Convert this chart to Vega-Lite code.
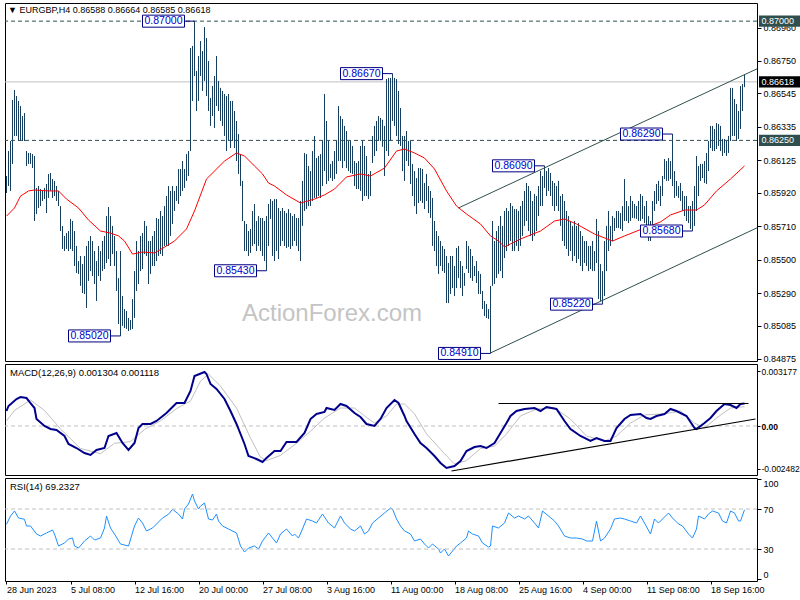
{
"$schema":"https://vega.github.io/schema/vega-lite/v6.json",
"padding":{"left":2,"top":2,"right":0,"bottom":0},
"background":"white",
"bounds":"flush",
"spacing":3,
"config":{"view":{"stroke":"black","strokeWidth":1},"font":"Liberation Sans"},
"datasets":{
"bars":[
{"i":0,"h":0.86026,"l":0.85919},{"i":1,"h":0.86183,"l":0.85963},{"i":2,"h":0.86246,"l":0.85932},{"i":3,"h":0.86504,"l":0.86102},{"i":4,"h":0.86567,"l":0.86278},{"i":5,"h":0.86529,"l":0.86278},{"i":6,"h":0.86498,"l":0.86246},{"i":7,"h":0.86466,"l":0.86246},{"i":8,"h":0.86403,"l":0.86246},{"i":9,"h":0.86422,"l":0.86246},
{"i":10,"h":0.86183,"l":0.86089},{"i":11,"h":0.86171,"l":0.86102},{"i":12,"h":0.86171,"l":0.86102},{"i":13,"h":0.86164,"l":0.86076},{"i":14,"h":0.86152,"l":0.85743},{"i":15,"h":0.85951,"l":0.85787},{"i":16,"h":0.85963,"l":0.85825},{"i":17,"h":0.85944,"l":0.85837},{"i":18,"h":0.85932,"l":0.85869},{"i":19,"h":0.85951,"l":0.85881},
{"i":20,"h":0.85976,"l":0.85793},{"i":21,"h":0.86039,"l":0.85888},{"i":22,"h":0.86045,"l":0.85932},{"i":23,"h":0.86007,"l":0.85888},{"i":24,"h":0.85995,"l":0.859},{"i":25,"h":0.85963,"l":0.85869},{"i":26,"h":0.85932,"l":0.85837},{"i":27,"h":0.85837,"l":0.8568},{"i":28,"h":0.85712,"l":0.85567},{"i":29,"h":0.85649,"l":0.85554},
{"i":30,"h":0.85667,"l":0.85567},{"i":31,"h":0.8568,"l":0.85554},{"i":32,"h":0.85756,"l":0.85567},{"i":33,"h":0.85743,"l":0.85554},{"i":34,"h":0.8568,"l":0.8546},{"i":35,"h":0.85586,"l":0.85416},{"i":36,"h":0.85491,"l":0.8541},{"i":37,"h":0.85523,"l":0.85335},{"i":38,"h":0.85472,"l":0.8529},{"i":39,"h":0.85523,"l":0.85284},
{"i":40,"h":0.85586,"l":0.85196},{"i":41,"h":0.85617,"l":0.85366},{"i":42,"h":0.85649,"l":0.85428},{"i":43,"h":0.85617,"l":0.85397},{"i":44,"h":0.85554,"l":0.85347},{"i":45,"h":0.85491,"l":0.8524},{"i":46,"h":0.85586,"l":0.85397},{"i":47,"h":0.85554,"l":0.85366},{"i":48,"h":0.85617,"l":0.85428},{"i":49,"h":0.85649,"l":0.85441},
{"i":50,"h":0.85774,"l":0.85479},{"i":51,"h":0.85831,"l":0.85504},{"i":52,"h":0.85774,"l":0.8546},{"i":53,"h":0.85712,"l":0.85535},{"i":54,"h":0.85649,"l":0.8546},{"i":55,"h":0.85554,"l":0.85303},{"i":56,"h":0.85384,"l":0.85095},{"i":57,"h":0.85554,"l":0.8502},{"i":58,"h":0.85271,"l":0.85083},{"i":59,"h":0.85189,"l":0.8507},
{"i":60,"h":0.85177,"l":0.85064},{"i":61,"h":0.85133,"l":0.85051},{"i":62,"h":0.8512,"l":0.85058},{"i":63,"h":0.85252,"l":0.85064},{"i":64,"h":0.85428,"l":0.85133},{"i":65,"h":0.85617,"l":0.85303},{"i":66,"h":0.85554,"l":0.85347},{"i":67,"h":0.85649,"l":0.85428},{"i":68,"h":0.85667,"l":0.85441},{"i":69,"h":0.85743,"l":0.85535},
{"i":70,"h":0.85712,"l":0.85523},{"i":71,"h":0.85617,"l":0.85347},{"i":72,"h":0.85617,"l":0.8541},{"i":73,"h":0.85649,"l":0.8546},{"i":74,"h":0.8568,"l":0.8546},{"i":75,"h":0.85762,"l":0.85491},{"i":76,"h":0.85756,"l":0.85523},{"i":77,"h":0.85806,"l":0.85535},{"i":78,"h":0.85774,"l":0.85523},{"i":79,"h":0.85837,"l":0.85586},
{"i":80,"h":0.859,"l":0.85586},{"i":81,"h":0.85963,"l":0.85586},{"i":82,"h":0.85932,"l":0.85649},{"i":83,"h":0.85963,"l":0.85724},{"i":84,"h":0.85932,"l":0.85806},{"i":85,"h":0.85963,"l":0.85869},{"i":86,"h":0.8607,"l":0.8585},{"i":87,"h":0.8607,"l":0.859},{"i":88,"h":0.8612,"l":0.85932},{"i":89,"h":0.8607,"l":0.85951},
{"i":90,"h":0.86164,"l":0.85995},{"i":91,"h":0.86183,"l":0.86026},{"i":92,"h":0.86831,"l":0.86183},{"i":93,"h":0.86844,"l":0.86498},{"i":94,"h":0.87,"l":0.86655},{"i":95,"h":0.86687,"l":0.86435},{"i":96,"h":0.86781,"l":0.86498},{"i":97,"h":0.86875,"l":0.86655},{"i":98,"h":0.86812,"l":0.86561},{"i":99,"h":0.86963,"l":0.86624},
{"i":100,"h":0.86894,"l":0.86529},{"i":101,"h":0.86749,"l":0.86435},{"i":102,"h":0.86517,"l":0.86341},{"i":103,"h":0.86592,"l":0.86403},{"i":104,"h":0.86655,"l":0.86328},{"i":105,"h":0.86781,"l":0.86466},{"i":106,"h":0.86624,"l":0.86435},{"i":107,"h":0.8658,"l":0.86372},{"i":108,"h":0.86561,"l":0.86341},{"i":109,"h":0.86542,"l":0.86278},
{"i":110,"h":0.86529,"l":0.86183},{"i":111,"h":0.86542,"l":0.86246},{"i":112,"h":0.86498,"l":0.86202},{"i":113,"h":0.86498,"l":0.86246},{"i":114,"h":0.86435,"l":0.86202},{"i":115,"h":0.86372,"l":0.8612},{"i":116,"h":0.8629,"l":0.86039},{"i":117,"h":0.86164,"l":0.85963},{"i":118,"h":0.85995,"l":0.85743},{"i":119,"h":0.85743,"l":0.85554},
{"i":120,"h":0.85724,"l":0.85554},{"i":121,"h":0.8568,"l":0.85523},{"i":122,"h":0.85693,"l":0.85542},{"i":123,"h":0.85806,"l":0.85586},{"i":124,"h":0.8585,"l":0.85598},{"i":125,"h":0.85743,"l":0.85554},{"i":126,"h":0.85774,"l":0.85586},{"i":127,"h":0.85762,"l":0.85554},{"i":128,"h":0.85762,"l":0.85523},{"i":129,"h":0.85743,"l":0.85491},
{"i":130,"h":0.85774,"l":0.8543},{"i":131,"h":0.8585,"l":0.85586},{"i":132,"h":0.85881,"l":0.85756},{"i":133,"h":0.85869,"l":0.85523},{"i":134,"h":0.85881,"l":0.85491},{"i":135,"h":0.85881,"l":0.85554},{"i":136,"h":0.85825,"l":0.85504},{"i":137,"h":0.85806,"l":0.85586},{"i":138,"h":0.85825,"l":0.85617},{"i":139,"h":0.85806,"l":0.85586},
{"i":140,"h":0.85793,"l":0.85573},{"i":141,"h":0.85818,"l":0.8558},{"i":142,"h":0.85793,"l":0.85567},{"i":143,"h":0.85774,"l":0.85586},{"i":144,"h":0.85787,"l":0.85617},{"i":145,"h":0.85762,"l":0.85586},{"i":146,"h":0.85762,"l":0.85554},{"i":147,"h":0.85869,"l":0.85491},{"i":148,"h":0.85995,"l":0.85712},{"i":149,"h":0.86171,"l":0.85806},
{"i":150,"h":0.86164,"l":0.85818},{"i":151,"h":0.86089,"l":0.85837},{"i":152,"h":0.86057,"l":0.85837},{"i":153,"h":0.86183,"l":0.85869},{"i":154,"h":0.86278,"l":0.85888},{"i":155,"h":0.86139,"l":0.85888},{"i":156,"h":0.86152,"l":0.859},{"i":157,"h":0.86164,"l":0.85888},{"i":158,"h":0.86246,"l":0.85963},{"i":159,"h":0.86542,"l":0.86057},
{"i":160,"h":0.86372,"l":0.85976},{"i":161,"h":0.86246,"l":0.85995},{"i":162,"h":0.86102,"l":0.86013},{"i":163,"h":0.8612,"l":0.85995},{"i":164,"h":0.86183,"l":0.86007},{"i":165,"h":0.86246,"l":0.86039},{"i":166,"h":0.86466,"l":0.8612},{"i":167,"h":0.86403,"l":0.8612},{"i":168,"h":0.86385,"l":0.86076},{"i":169,"h":0.86341,"l":0.8612},
{"i":170,"h":0.86309,"l":0.86076},{"i":171,"h":0.86246,"l":0.86057},{"i":172,"h":0.86246,"l":0.86045},{"i":173,"h":0.86215,"l":0.86039},{"i":174,"h":0.8612,"l":0.85963},{"i":175,"h":0.86108,"l":0.85944},{"i":176,"h":0.8612,"l":0.85944},{"i":177,"h":0.86215,"l":0.85932},{"i":178,"h":0.86246,"l":0.85869},{"i":179,"h":0.86215,"l":0.859},
{"i":180,"h":0.86152,"l":0.859},{"i":181,"h":0.86039,"l":0.85881},{"i":182,"h":0.86057,"l":0.859},{"i":183,"h":0.86278,"l":0.86108},{"i":184,"h":0.86341,"l":0.86152},{"i":185,"h":0.86372,"l":0.86183},{"i":186,"h":0.86403,"l":0.86246},{"i":187,"h":0.86391,"l":0.86246},{"i":188,"h":0.8638,"l":0.8621},{"i":189,"h":0.86341,"l":0.86026},
{"i":190,"h":0.86636,"l":0.86183},{"i":191,"h":0.86643,"l":0.86152},{"i":192,"h":0.86643,"l":0.86246},{"i":193,"h":0.8667,"l":0.86372},{"i":194,"h":0.86643,"l":0.86341},{"i":195,"h":0.86636,"l":0.86278},{"i":196,"h":0.86561,"l":0.86227},{"i":197,"h":0.86454,"l":0.86215},{"i":198,"h":0.86278,"l":0.86057},{"i":199,"h":0.86278,"l":0.85995},
{"i":200,"h":0.86309,"l":0.8612},{"i":201,"h":0.86246,"l":0.86089},{"i":202,"h":0.86246,"l":0.85976},{"i":203,"h":0.86102,"l":0.859},{"i":204,"h":0.86057,"l":0.85837},{"i":205,"h":0.86013,"l":0.85787},{"i":206,"h":0.86076,"l":0.85856},{"i":207,"h":0.86076,"l":0.85869},{"i":208,"h":0.8607,"l":0.85856},{"i":209,"h":0.85982,"l":0.85818},
{"i":210,"h":0.86039,"l":0.85869},{"i":211,"h":0.85963,"l":0.85793},{"i":212,"h":0.85932,"l":0.85762},{"i":213,"h":0.85888,"l":0.85586},{"i":214,"h":0.85743,"l":0.85554},{"i":215,"h":0.8568,"l":0.8546},{"i":216,"h":0.85649,"l":0.8541},{"i":217,"h":0.85617,"l":0.8546},{"i":218,"h":0.85586,"l":0.85428},{"i":219,"h":0.85567,"l":0.85416},
{"i":220,"h":0.85523,"l":0.85227},{"i":221,"h":0.85479,"l":0.85227},{"i":222,"h":0.85523,"l":0.85284},{"i":223,"h":0.85523,"l":0.85321},{"i":224,"h":0.8546,"l":0.85271},{"i":225,"h":0.85573,"l":0.85321},{"i":226,"h":0.85586,"l":0.85384},{"i":227,"h":0.85491,"l":0.85321},{"i":228,"h":0.8546,"l":0.85271},{"i":229,"h":0.85416,"l":0.85335},
{"i":230,"h":0.85617,"l":0.85441},{"i":231,"h":0.85586,"l":0.85416},{"i":232,"h":0.85567,"l":0.85384},{"i":233,"h":0.85523,"l":0.85366},{"i":234,"h":0.8546,"l":0.85397},{"i":235,"h":0.85491,"l":0.85353},{"i":236,"h":0.85428,"l":0.85284},{"i":237,"h":0.8541,"l":0.85284},{"i":238,"h":0.85303,"l":0.85189},{"i":239,"h":0.8524,"l":0.85145},
{"i":240,"h":0.85221,"l":0.85133},{"i":241,"h":0.85189,"l":0.85127},{"i":242,"h":0.85335,"l":0.8491},{"i":243,"h":0.85743,"l":0.85335},{"i":244,"h":0.85617,"l":0.85347},{"i":245,"h":0.8568,"l":0.85384},{"i":246,"h":0.85712,"l":0.8541},{"i":247,"h":0.85774,"l":0.85428},{"i":248,"h":0.85712,"l":0.85384},{"i":249,"h":0.85806,"l":0.8551},
{"i":250,"h":0.85825,"l":0.85554},{"i":251,"h":0.85806,"l":0.85586},{"i":252,"h":0.85856,"l":0.85617},{"i":253,"h":0.85837,"l":0.85554},{"i":254,"h":0.85818,"l":0.85554},{"i":255,"h":0.85818,"l":0.85586},{"i":256,"h":0.85806,"l":0.85554},{"i":257,"h":0.85837,"l":0.85586},{"i":258,"h":0.85869,"l":0.85649},{"i":259,"h":0.85932,"l":0.85712},
{"i":260,"h":0.85982,"l":0.85743},{"i":261,"h":0.85963,"l":0.8568},{"i":262,"h":0.85932,"l":0.85649},{"i":263,"h":0.85869,"l":0.85617},{"i":264,"h":0.85913,"l":0.85649},{"i":265,"h":0.859,"l":0.8568},{"i":266,"h":0.85963,"l":0.85774},{"i":267,"h":0.86057,"l":0.85837},{"i":268,"h":0.86026,"l":0.85837},{"i":269,"h":0.8609,"l":0.85951},
{"i":270,"h":0.86057,"l":0.859},{"i":271,"h":0.86076,"l":0.85932},{"i":272,"h":0.86045,"l":0.859},{"i":273,"h":0.85995,"l":0.85837},{"i":274,"h":0.85982,"l":0.85806},{"i":275,"h":0.85963,"l":0.85837},{"i":276,"h":0.85995,"l":0.85806},{"i":277,"h":0.859,"l":0.85712},{"i":278,"h":0.85913,"l":0.85617},{"i":279,"h":0.85869,"l":0.85586},
{"i":280,"h":0.85806,"l":0.85567},{"i":281,"h":0.85774,"l":0.85523},{"i":282,"h":0.85743,"l":0.85554},{"i":283,"h":0.85712,"l":0.85491},{"i":284,"h":0.85743,"l":0.85523},{"i":285,"h":0.85712,"l":0.85479},{"i":286,"h":0.8573,"l":0.85504},{"i":287,"h":0.8568,"l":0.8546},{"i":288,"h":0.85649,"l":0.85428},{"i":289,"h":0.85617,"l":0.85479},
{"i":290,"h":0.85617,"l":0.8546},{"i":291,"h":0.85586,"l":0.85428},{"i":292,"h":0.85586,"l":0.85441},{"i":293,"h":0.85617,"l":0.85428},{"i":294,"h":0.85554,"l":0.85428},{"i":295,"h":0.85756,"l":0.85479},{"i":296,"h":0.8568,"l":0.85252},{"i":297,"h":0.85472,"l":0.8524},{"i":298,"h":0.85428,"l":0.8522},{"i":299,"h":0.85617,"l":0.85271},
{"i":300,"h":0.85712,"l":0.85428},{"i":301,"h":0.85806,"l":0.85554},{"i":302,"h":0.85712,"l":0.85586},{"i":303,"h":0.85774,"l":0.85617},{"i":304,"h":0.85762,"l":0.8568},{"i":305,"h":0.85806,"l":0.85699},{"i":306,"h":0.85806,"l":0.85699},{"i":307,"h":0.85793,"l":0.85693},{"i":308,"h":0.85837,"l":0.8568},{"i":309,"h":0.86007,"l":0.85743},
{"i":310,"h":0.85869,"l":0.85743},{"i":311,"h":0.85837,"l":0.8573},{"i":312,"h":0.859,"l":0.85743},{"i":313,"h":0.85869,"l":0.85762},{"i":314,"h":0.8585,"l":0.8576},{"i":315,"h":0.85837,"l":0.85756},{"i":316,"h":0.85869,"l":0.85743},{"i":317,"h":0.85913,"l":0.85743},{"i":318,"h":0.859,"l":0.85756},{"i":319,"h":0.85837,"l":0.8573},
{"i":320,"h":0.85869,"l":0.85649},{"i":321,"h":0.85774,"l":0.85617},{"i":322,"h":0.85743,"l":0.85617},{"i":323,"h":0.85869,"l":0.8568},{"i":324,"h":0.85932,"l":0.85806},{"i":325,"h":0.85976,"l":0.8585},{"i":326,"h":0.85995,"l":0.85869},{"i":327,"h":0.85963,"l":0.85837},{"i":328,"h":0.86026,"l":0.859},{"i":329,"h":0.86133,"l":0.86007},
{"i":330,"h":0.8612,"l":0.85995},{"i":331,"h":0.86139,"l":0.85995},{"i":332,"h":0.8612,"l":0.86007},{"i":333,"h":0.8629,"l":0.85963},{"i":334,"h":0.86057,"l":0.85888},{"i":335,"h":0.85995,"l":0.859},{"i":336,"h":0.85963,"l":0.85888},{"i":337,"h":0.85982,"l":0.85869},{"i":338,"h":0.85932,"l":0.85806},{"i":339,"h":0.859,"l":0.85774},
{"i":340,"h":0.859,"l":0.85743},{"i":341,"h":0.85837,"l":0.8573},{"i":342,"h":0.85837,"l":0.85693},{"i":343,"h":0.85869,"l":0.8568},{"i":344,"h":0.85963,"l":0.85712},{"i":345,"h":0.86152,"l":0.85806},{"i":346,"h":0.86089,"l":0.859},{"i":347,"h":0.86102,"l":0.85995},{"i":348,"h":0.86102,"l":0.86013},{"i":349,"h":0.8612,"l":0.85982},
{"i":350,"h":0.86171,"l":0.85976},{"i":351,"h":0.86246,"l":0.86057},{"i":352,"h":0.86341,"l":0.86202},{"i":353,"h":0.86341,"l":0.86183},{"i":354,"h":0.86322,"l":0.86183},{"i":355,"h":0.86359,"l":0.86196},{"i":356,"h":0.86353,"l":0.86215},{"i":357,"h":0.86341,"l":0.86183},{"i":358,"h":0.86259,"l":0.86152},{"i":359,"h":0.86259,"l":0.86171},
{"i":360,"h":0.86246,"l":0.86152},{"i":361,"h":0.86278,"l":0.86171},{"i":362,"h":0.8658,"l":0.86246},{"i":363,"h":0.8658,"l":0.86278},{"i":364,"h":0.8651,"l":0.86278},{"i":365,"h":0.86479,"l":0.86246},{"i":366,"h":0.86435,"l":0.86259},{"i":367,"h":0.86592,"l":0.86322},{"i":368,"h":0.86605,"l":0.86435},{"i":369,"h":0.86664,"l":0.86585}
],
"ma":[
{"i":0,"p":0.85774},{"i":4,"p":0.85825},{"i":7,"p":0.859},{"i":11,"p":0.85932},{"i":14,"p":0.85938},{"i":21,"p":0.85932},{"i":26,"p":0.85932},{"i":30,"p":0.85881},{"i":36,"p":0.85825},{"i":41,"p":0.85749},{"i":47,"p":0.8568},{"i":52,"p":0.85667},{"i":56,"p":0.85649},{"i":59,"p":0.85617},{"i":63,"p":0.85535},{"i":68,"p":0.85548},{"i":74,"p":0.85542},{"i":80,"p":0.85586},{"i":84,"p":0.85617},{"i":90,"p":0.85693},{"i":94,"p":0.85806},{"i":100,"p":0.86007},{"i":109,"p":0.8612},{"i":115,"p":0.86171},{"i":119,"p":0.86152},{"i":124,"p":0.86089},{"i":128,"p":0.86039},{"i":131,"p":0.85982},{"i":134,"p":0.85963},{"i":140,"p":0.85907},{"i":147,"p":0.85856},{"i":154,"p":0.85881},{"i":159,"p":0.85907},{"i":164,"p":0.85944},{"i":170,"p":0.8602},{"i":177,"p":0.86039},{"i":182,"p":0.86026},{"i":189,"p":0.86076},{"i":195,"p":0.86183},{"i":199,"p":0.86196},{"i":204,"p":0.86171},{"i":209,"p":0.86139},{"i":214,"p":0.8607},{"i":220,"p":0.85932},{"i":225,"p":0.85837},{"i":230,"p":0.85787},{"i":237,"p":0.85724},{"i":242,"p":0.85649},{"i":246,"p":0.85617},{"i":249,"p":0.8558},{"i":257,"p":0.8563},{"i":267,"p":0.8568},{"i":274,"p":0.85743},{"i":279,"p":0.85756},{"i":285,"p":0.85724},{"i":294,"p":0.85661},{"i":303,"p":0.85617},{"i":309,"p":0.85649},{"i":319,"p":0.85699},{"i":327,"p":0.85737},{"i":332,"p":0.85781},{"i":339,"p":0.85812},{"i":345,"p":0.85812},{"i":349,"p":0.85844},{"i":355,"p":0.85932},{"i":362,"p":0.86007},{"i":369,"p":0.86089}
],
"macd":[
{"i":0,"v":0.000867},{"i":1,"v":0.001156},{"i":5,"v":0.001561},{"i":7,"v":0.001676},{"i":10,"v":0.001618},{"i":12,"v":0.001329},{"i":14,"v":0.00104},{"i":15,"v":0.000405},{"i":19,"v":0},{"i":22,"v":-0.000173},{"i":25,"v":-0.000231},{"i":29,"v":-0.000578},{"i":31,"v":-0.00104},{"i":35,"v":-0.001272},{"i":39,"v":-0.001561},{"i":42,"v":-0.001676},{"i":45,"v":-0.001387},{"i":49,"v":-0.001272},{"i":51,"v":-0.000578},{"i":55,"v":-0.000405},{"i":58,"v":-0.000983},{"i":61,"v":-0.001387},{"i":64,"v":-0.000983},{"i":66,"v":-0.000116},{"i":68,"v":0.000116},{"i":72,"v":0.000116},{"i":75,"v":0.000289},{"i":80,"v":0.000751},{"i":85,"v":0.001329},{"i":89,"v":0.001329},{"i":92,"v":0.002023},{"i":94,"v":0.00289},{"i":99,"v":0.003121},{"i":100,"v":0.003006},{"i":102,"v":0.002428},{"i":105,"v":0.002139},{"i":109,"v":0.001561},{"i":112,"v":0.000867},{"i":115,"v":0.000116},{"i":119,"v":-0.00104},{"i":121,"v":-0.001734},{"i":125,"v":-0.001907},{"i":128,"v":-0.002081},{"i":130,"v":-0.00185},{"i":134,"v":-0.001445},{"i":137,"v":-0.001445},{"i":140,"v":-0.000925},{"i":145,"v":-0.000925},{"i":149,"v":-0.000405},{"i":152,"v":0.000405},{"i":155,"v":0.000694},{"i":159,"v":0.000809},{"i":160,"v":0.00104},{"i":164,"v":0.000925},{"i":167,"v":0.001272},{"i":170,"v":0.001156},{"i":174,"v":0.000751},{"i":177,"v":0.00052},{"i":180,"v":0.000116},{"i":184,"v":0},{"i":187,"v":0.000405},{"i":190,"v":0.00104},{"i":194,"v":0.001503},{"i":196,"v":0.001329},{"i":199,"v":0.000578},{"i":200,"v":0.000289},{"i":204,"v":-0.000462},{"i":207,"v":-0.000983},{"i":210,"v":-0.001272},{"i":214,"v":-0.001734},{"i":217,"v":-0.002139},{"i":220,"v":-0.002428},{"i":224,"v":-0.002312},{"i":227,"v":-0.002023},{"i":230,"v":-0.001445},{"i":234,"v":-0.001214},{"i":237,"v":-0.001156},{"i":240,"v":-0.001272},{"i":244,"v":-0.000983},{"i":247,"v":-0.000405},{"i":250,"v":0.000173},{"i":252,"v":0.000578},{"i":255,"v":0.000867},{"i":259,"v":0.000983},{"i":264,"v":0.00104},{"i":267,"v":0.000867},{"i":270,"v":0.001098},{"i":275,"v":0.000983},{"i":279,"v":0.000289},{"i":282,"v":-0.000173},{"i":287,"v":-0.000578},{"i":292,"v":-0.000867},{"i":295,"v":-0.000694},{"i":299,"v":-0.000867},{"i":302,"v":-0.000867},{"i":305,"v":-0.000116},{"i":309,"v":0.000405},{"i":312,"v":0.000636},{"i":317,"v":0.000694},{"i":320,"v":0.000462},{"i":322,"v":0.000405},{"i":325,"v":0.000578},{"i":329,"v":0.000694},{"i":332,"v":0.000983},{"i":335,"v":0.000867},{"i":340,"v":0.000578},{"i":344,"v":-0.000116},{"i":345,"v":-0.000173},{"i":349,"v":0.000173},{"i":352,"v":0.000462},{"i":355,"v":0.000867},{"i":359,"v":0.001272},{"i":362,"v":0.001214},{"i":365,"v":0.00104},{"i":367,"v":0.001272},{"i":369,"v":0.001304}
],
"sig":[
{"i":0,"v":0.0003},{"i":4,"v":0.0009},{"i":12,"v":0.0015},{"i":19,"v":0.0009},{"i":27,"v":-0.00017},{"i":37,"v":-0.0013},{"i":47,"v":-0.0016},{"i":54,"v":-0.001},{"i":62,"v":-0.0009},{"i":69,"v":-0.0002},{"i":77,"v":0.0003},{"i":85,"v":0.001},{"i":92,"v":0.00145},{"i":97,"v":0.0026},{"i":101,"v":0.003},{"i":107,"v":0.0023},{"i":115,"v":0.00104},{"i":122,"v":-0.0007},{"i":127,"v":-0.0018},{"i":130,"v":-0.002},{"i":137,"v":-0.0017},{"i":145,"v":-0.001},{"i":152,"v":-0.0003},{"i":159,"v":0.00046},{"i":167,"v":0.00104},{"i":174,"v":0.00104},{"i":180,"v":0.0005},{"i":184,"v":0.00017},{"i":190,"v":0.00058},{"i":195,"v":0.00127},{"i":199,"v":0.00127},{"i":204,"v":0.0007},{"i":210,"v":-0.00046},{"i":219,"v":-0.0016},{"i":224,"v":-0.0022},{"i":230,"v":-0.002},{"i":237,"v":-0.0013},{"i":244,"v":-0.00116},{"i":250,"v":-0.00046},{"i":257,"v":0.00058},{"i":265,"v":0.00098},{"i":274,"v":0.00104},{"i":282,"v":0.0004},{"i":290,"v":-0.00058},{"i":299,"v":-0.00087},{"i":305,"v":-0.00058},{"i":312,"v":0.00017},{"i":319,"v":0.00064},{"i":329,"v":0.0007},{"i":337,"v":0.00087},{"i":344,"v":0.00017},{"i":349,"v":-0.00012},{"i":355,"v":0.00046},{"i":362,"v":0.00104},{"i":369,"v":0.001118}
],
"rsi":[
{"i":0,"v":54.7},{"i":2,"v":63},{"i":4,"v":68},{"i":6,"v":61},{"i":9,"v":59.7},{"i":10,"v":53},{"i":12,"v":53},{"i":15,"v":45},{"i":17,"v":43},{"i":20,"v":46},{"i":23,"v":49},{"i":24,"v":45},{"i":26,"v":33},{"i":29,"v":36},{"i":31,"v":40},{"i":33,"v":41},{"i":34,"v":33},{"i":36,"v":31},{"i":39,"v":38},{"i":42,"v":43},{"i":44,"v":39},{"i":47,"v":41},{"i":49,"v":51},{"i":50,"v":63},{"i":52,"v":51},{"i":54,"v":45},{"i":57,"v":35},{"i":61,"v":33},{"i":64,"v":53},{"i":66,"v":61},{"i":68,"v":56},{"i":70,"v":48},{"i":73,"v":51},{"i":75,"v":55},{"i":78,"v":61},{"i":81,"v":64.7},{"i":83,"v":69.7},{"i":86,"v":65},{"i":88,"v":60},{"i":89,"v":70},{"i":91,"v":75},{"i":93,"v":85},{"i":94,"v":78},{"i":96,"v":70},{"i":97,"v":73},{"i":99,"v":76},{"i":101,"v":60},{"i":103,"v":59},{"i":105,"v":65},{"i":106,"v":58},{"i":108,"v":53},{"i":111,"v":50},{"i":115,"v":46},{"i":117,"v":33},{"i":119,"v":27},{"i":121,"v":31},{"i":124,"v":33},{"i":126,"v":30},{"i":128,"v":38},{"i":131,"v":46},{"i":133,"v":41},{"i":135,"v":36},{"i":137,"v":45},{"i":140,"v":50},{"i":143,"v":43},{"i":144,"v":45},{"i":146,"v":41},{"i":148,"v":50},{"i":150,"v":60},{"i":153,"v":58},{"i":155,"v":56},{"i":158,"v":65},{"i":161,"v":56},{"i":164,"v":51},{"i":167,"v":63},{"i":169,"v":56},{"i":172,"v":50},{"i":174,"v":48},{"i":177,"v":53},{"i":179,"v":45},{"i":181,"v":48},{"i":183,"v":56},{"i":186,"v":61},{"i":189,"v":66},{"i":192,"v":71},{"i":193,"v":70},{"i":195,"v":60},{"i":197,"v":53},{"i":199,"v":48},{"i":202,"v":45},{"i":204,"v":38},{"i":207,"v":40},{"i":209,"v":35},{"i":211,"v":31},{"i":213,"v":35},{"i":216,"v":30},{"i":217,"v":26},{"i":219,"v":30},{"i":221,"v":23},{"i":223,"v":28},{"i":225,"v":33},{"i":227,"v":36},{"i":230,"v":41},{"i":231,"v":48},{"i":233,"v":45},{"i":236,"v":43},{"i":238,"v":36},{"i":241,"v":32},{"i":242,"v":33},{"i":243,"v":53},{"i":246,"v":51},{"i":249,"v":56},{"i":251,"v":66},{"i":254,"v":61},{"i":256,"v":63},{"i":259,"v":60},{"i":261,"v":63},{"i":264,"v":56},{"i":266,"v":51},{"i":268,"v":68},{"i":271,"v":63},{"i":274,"v":58},{"i":276,"v":53},{"i":279,"v":43},{"i":282,"v":41},{"i":285,"v":41},{"i":288,"v":40},{"i":290,"v":38},{"i":293,"v":38},{"i":295,"v":58},{"i":297,"v":38},{"i":299,"v":41},{"i":302,"v":50},{"i":304,"v":60},{"i":307,"v":61},{"i":309,"v":60},{"i":312,"v":58},{"i":315,"v":56},{"i":317,"v":63},{"i":319,"v":56},{"i":322,"v":45},{"i":324,"v":60},{"i":326,"v":56},{"i":328,"v":60},{"i":331,"v":66},{"i":333,"v":61},{"i":336,"v":55},{"i":338,"v":53},{"i":341,"v":45},{"i":343,"v":41},{"i":345,"v":50},{"i":346,"v":63},{"i":349,"v":60},{"i":351,"v":65},{"i":353,"v":68},{"i":356,"v":66},{"i":358,"v":58},{"i":360,"v":56},{"i":362,"v":68},{"i":364,"v":66},{"i":366,"v":58},{"i":367,"v":58},{"i":369,"v":69.23}
],
"plabels":[{"i":94,"p":0.87},{"i":193,"p":0.8667},{"i":269,"p":0.8609},{"i":333,"p":0.8629},{"i":343,"p":0.8568},{"i":130,"p":0.8543},{"i":57,"p":0.8502},{"i":242,"p":0.8491},{"i":298,"p":0.8522}],
"tl":[{"t":"u","i":226,"p":0.85825},{"t":"u","i":375.25,"p":0.867},{"t":"d","i":242,"p":0.84913},{"t":"d","i":375.25,"p":0.857}],
"mtl":[{"t":"h","i":246,"v":0.0013},{"t":"h","i":371,"v":0.0013},{"t":"r","i":222.5,"v":-0.0026},{"t":"r","i":374.5,"v":0.000405}]
},
"vconcat":[
{
"width":752,"height":358,
"resolve":{"axis":{"x":"independent","y":"independent"}},
"layer":[
{"data":{"values":[{"p":0.86618}]},"mark":{"type":"rule","color":"#C0C0C0","strokeWidth":1},
 "encoding":{"y":{"field":"p","type":"quantitative","scale":{"domain":[0.848624,0.871142],"nice":false,"zero":false},
  "axis":{"orient":"right","values":[0.84875,0.85085,0.8529,0.855,0.8571,0.8592,0.86125,0.86335,0.86545,0.8675,0.8696],"format":".5f","title":null,"grid":false,"domain":false,"ticks":true,"tickSize":4,"tickColor":"black","labelColor":"black","labelFontSize":9,"labelPadding":2,"labelFlush":false,"labelOverlap":false,"labelBound":false}}}},
{"data":{"values":[{"t":"ActionForex.com"}]},"mark":{"type":"text","fontSize":24,"color":"#c4c4c4","align":"center","baseline":"middle"},
 "encoding":{"x":{"datum":162.75,"type":"quantitative","scale":{"domain":[-0.75,375.25],"nice":false,"zero":false},"axis":null},"y":{"datum":0.85158,"type":"quantitative","axis":null},"text":{"field":"t"}}},
{"data":{"name":"bars"},"mark":{"type":"rule","color":"#163e5e","strokeWidth":1},
 "encoding":{"x":{"field":"i","type":"quantitative","scale":{"domain":[-0.75,375.25],"nice":false,"zero":false},"axis":null},
 "y":{"field":"l","type":"quantitative","axis":null},"y2":{"field":"h"}}},
{"data":{"name":"ma"},"mark":{"type":"line","color":"#FF0000","strokeWidth":1},"encoding":{"x":{"field":"i","type":"quantitative","axis":null},"y":{"field":"p","type":"quantitative","axis":null}}},
{"data":{"values":[{"p":0.87},{"p":0.8625}]},"mark":{"type":"rule","color":"#2F4F4F","strokeWidth":1,"strokeDash":[4,3]},"encoding":{"y":{"field":"p","type":"quantitative","axis":null}}},
{"data":{"name":"tl"},"mark":{"type":"line","color":"#2F4F4F","strokeWidth":1},"encoding":{"x":{"field":"i","type":"quantitative","axis":null},"y":{"field":"p","type":"quantitative","axis":null},"detail":{"field":"t"}}},
{"data":{"name":"plabels"},"mark":{"type":"rule","color":"#000080","strokeWidth":1,"x2Offset":-10},"encoding":{"x":{"field":"i","type":"quantitative","axis":null},"x2":{"field":"i"},"y":{"field":"p","type":"quantitative","axis":null}}},
{"data":{"name":"plabels"},"mark":{"type":"point","shape":"M-1,-0.286H1V0.286H-1Z","size":1764,"filled":true,"fill":"white","stroke":"#000080","strokeWidth":1,"opacity":1,"xOffset":-31},"encoding":{"x":{"field":"i","type":"quantitative","axis":null},"y":{"field":"p","type":"quantitative","axis":null}}},
{"data":{"name":"plabels"},"mark":{"type":"text","dx":-31,"align":"center","baseline":"middle","color":"#0000CD","fontSize":10.5},"encoding":{"x":{"field":"i","type":"quantitative","axis":null},"y":{"field":"p","type":"quantitative","axis":null},"text":{"field":"p","format":".5f"}}},
{"data":{"values":[{"p":0.87},{"p":0.8625}]},"mark":{"type":"point","shape":"M-1,-0.27H1V0.27H-1Z","size":1681,"filled":true,"color":"#2F4F4F","opacity":1,"strokeWidth":0},"encoding":{"x":{"datum":386.5,"type":"quantitative","axis":null},"y":{"field":"p","type":"quantitative","axis":null}}},
{"data":{"values":[{"p":0.86618}]},"mark":{"type":"point","shape":"M-1,-0.27H1V0.27H-1Z","size":1681,"filled":true,"color":"#000000","opacity":1,"strokeWidth":0},"encoding":{"x":{"datum":386.5,"type":"quantitative","axis":null},"y":{"field":"p","type":"quantitative","axis":null}}},
{"data":{"values":[{"p":0.87},{"p":0.8625},{"p":0.86618}]},"mark":{"type":"text","align":"left","baseline":"middle","color":"white","fontSize":9},"encoding":{"x":{"datum":377.5,"type":"quantitative","axis":null},"y":{"field":"p","type":"quantitative","axis":null},"text":{"field":"p","format":".5f"}}},
{"data":{"values":[{"t":"▼  EURGBP,H4  0.86588 0.86664 0.86585 0.86618"}]},"mark":{"type":"text","align":"left","baseline":"middle","color":"black","fontSize":9},"encoding":{"x":{"datum":0.75,"type":"quantitative","axis":null},"y":{"datum":0.8707,"type":"quantitative","axis":null},"text":{"field":"t"}}}
]
},
{
"width":752,"height":111,
"resolve":{"axis":{"x":"independent","y":"independent"}},
"layer":[
{"data":{"values":[{"v":0}]},"mark":{"type":"rule","color":"#C0C0C0","strokeWidth":1,"strokeDash":[4,3]},
 "encoding":{"y":{"field":"v","type":"quantitative","scale":{"domain":[-0.0028322,0.0035836],"nice":false,"zero":false},
  "axis":{"orient":"right","values":[-0.002482,0,0.003177],"labelExpr":"datum.value == 0 ? '0.00' : (datum.value < 0 ? '-' + format(-datum.value, '.6f') : format(datum.value, '.6f'))","labelFontWeight":{"condition":{"test":"datum.value == 0","value":"bold"},"value":"normal"},"title":null,"grid":false,"domain":false,"ticks":true,"tickSize":3,"tickColor":"black","labelColor":"black","labelFontSize":8.5,"labelPadding":1,"labelFlush":false,"labelOverlap":false,"labelBound":false}}}},
{"data":{"name":"sig"},"mark":{"type":"line","color":"#C0C0C0","strokeWidth":1},"encoding":{"x":{"field":"i","type":"quantitative","scale":{"domain":[-0.75,375.25],"nice":false,"zero":false},"axis":null},"y":{"field":"v","type":"quantitative","axis":null}}},
{"data":{"name":"macd"},"mark":{"type":"line","color":"#00008B","strokeWidth":2},"encoding":{"x":{"field":"i","type":"quantitative","axis":null},"y":{"field":"v","type":"quantitative","axis":null}}},
{"data":{"name":"mtl"},"mark":{"type":"line","color":"black","strokeWidth":1.2},"encoding":{"x":{"field":"i","type":"quantitative","axis":null},"y":{"field":"v","type":"quantitative","axis":null},"detail":{"field":"t"}}},
{"data":{"values":[{"t":"MACD(12,26,9) 0.001304 0.001118"}]},"mark":{"type":"text","align":"left","baseline":"middle","color":"black","fontSize":9.5},"encoding":{"x":{"datum":1.75,"type":"quantitative","axis":null},"y":{"datum":0.00306,"type":"quantitative","axis":null},"text":{"field":"t"}}}
]
},
{
"width":752,"height":103,
"resolve":{"axis":{"x":"independent","y":"independent"}},
"layer":[
{"data":{"name":"rsi"},"mark":{"type":"line","color":"#1E90FF","strokeWidth":1},
 "encoding":{"x":{"field":"i","type":"quantitative","scale":{"domain":[-0.75,375.25],"nice":false,"zero":false},
  "axis":{"values":[0,32,64,96,128,160,192,224,256,288,320,352],"labelExpr":"['28 Jun 2023','5 Jul 08:00','12 Jul 16:00','20 Jul 00:00','27 Jul 08:00','3 Aug 16:00','11 Aug 00:00','18 Aug 08:00','25 Aug 16:00','4 Sep 00:00','11 Sep 08:00','18 Sep 16:00'][round(datum.value/32)]","labelAlign":"left","labelAngle":0,"tickSize":3,"tickColor":"black","domain":false,"grid":false,"title":null,"labelFontSize":9,"labelPadding":1,"labelFlush":false,"labelOverlap":false,"labelBound":false,"labelColor":"black"}},
 "y":{"field":"v","type":"quantitative","scale":{"domain":[-2,101],"nice":false,"zero":false},
  "axis":{"orient":"right","values":[0,30,70,100],"title":null,"grid":false,"domain":false,"ticks":true,"tickSize":4,"tickColor":"black","labelColor":"black","labelFontSize":9,"labelPadding":2,"labelFlush":false,"labelOverlap":false,"labelBound":false,"labelBaseline":{"condition":[{"test":"datum.value == 100","value":"top"},{"test":"datum.value == 0","value":"bottom"}],"value":"middle"}}}}},
{"data":{"values":[{"v":70},{"v":30}]},"mark":{"type":"rule","color":"#C0C0C0","strokeWidth":1,"strokeDash":[4,3]},"encoding":{"y":{"field":"v","type":"quantitative","axis":null}}},
{"data":{"values":[{"t":"RSI(14) 69.2327"}]},"mark":{"type":"text","align":"left","baseline":"middle","color":"black","fontSize":9.5},"encoding":{"x":{"datum":1.75,"type":"quantitative","axis":null},"y":{"datum":92,"type":"quantitative","axis":null},"text":{"field":"t"}}}
]
}
]
}
